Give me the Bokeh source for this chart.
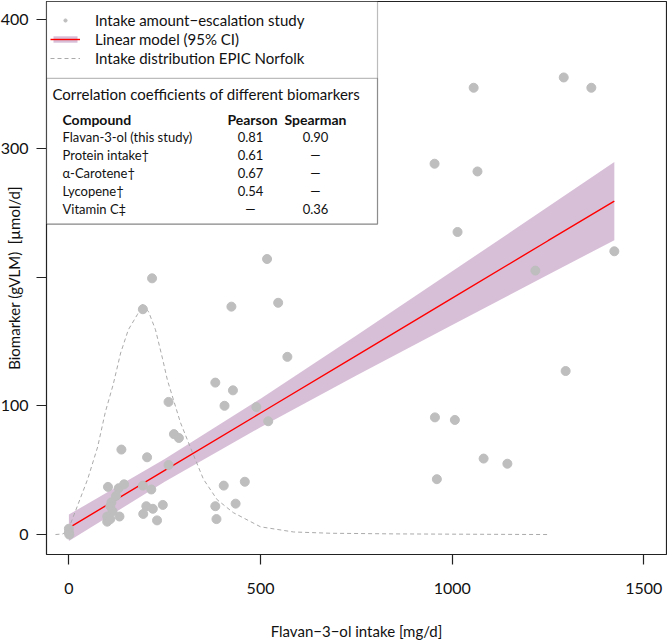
from bokeh.plotting import figure
from bokeh.models import (Range1d, FixedTicker, Legend, LegendItem, Label, BoxAnnotation)
from bokeh.embed import file_html
from bokeh.resources import INLINE

# ---- data ----
intake = [0, 0, 1, 102, 137, 130, 144, 123, 111, 108, 114, 100, 100, 108, 132,
          204, 193, 215, 202, 219, 194, 230, 245, 260, 260, 274, 287,
          382, 428, 406, 489, 520, 404, 459, 382, 435, 385,
          517, 424, 546, 570, 217, 193,
          1056, 1291, 1363, 954, 1066, 1014, 1423, 1217, 1296, 955, 1007, 1082, 1144, 960]
biomarker = [4.5, 1.5, 0, 37, 66, 36, 39, 30, 25, 22, 18, 14, 10, 12, 14,
             60, 38, 35, 22, 20, 16, 11, 23, 103, 54, 78, 75,
             118, 112, 100, 99, 88, 38, 41, 22, 24, 12,
             214, 177, 180, 138, 199, 175,
             347, 355, 347, 288, 282, 235, 220, 205, 127, 91, 89, 59, 55, 43]

fit_x = [0, 250, 500, 750, 1000, 1250, 1423]
fit_y = [5.2, 49.8, 94.4, 139.0, 183.6, 228.2, 259.0]
ci_lower = [-5.1, 41.0, 83.3, 123.5, 162.8, 201.8, 228.6]
ci_upper = [15.5, 58.6, 105.5, 154.5, 204.4, 254.6, 289.4]

epic_x = [-35, -15, 0, 22, 49, 75, 95, 116, 135, 155, 179, 192, 208, 226, 244,
          257, 291, 322, 351, 387, 429, 500, 586, 683, 850, 1000, 1250]
epic_y = [0, 0.5, 5, 22, 43, 68, 95, 117, 141, 159, 171, 179, 173, 159, 137,
          120, 87, 64, 43, 27, 17, 6, 2, 1, 0.5, 0.3, 0]

x_ticks = [0, 500, 1000, 1500]
y_ticks = [0, 100, 200, 300, 400]

compounds = ["Flavan-3-ol (this study)", "Protein intake\u2020", "\u03b1-Carotene\u2020",
             "Lycopene\u2020", "Vitamin C\u2021"]
pearson = ["0.81", "0.61", "0.67", "0.54", "\u2014"]
spearman = ["0.90", "\u2014", "\u2014", "\u2014", "0.36"]

# ---- layout ----
W, H = 667, 642
FL, FR, FT, FB = 46, 666, 1, 555
X0, X1 = -58.4, 1559.1
Y0, Y1 = -15.5, 414.0
FONT = "Lato"


def dx(px):
    return X0 + (px - FL) * (X1 - X0) / (FR - FL)


def dy(py):
    return Y1 - (py - FT) * (Y1 - Y0) / (FB - FT)


p = figure(width=W, height=H, output_backend="svg", toolbar_location=None,
           x_range=Range1d(X0, X1), y_range=Range1d(Y0, Y1),
           min_border_left=FL, min_border_right=W - FR,
           min_border_top=FT, min_border_bottom=H - FB)
p.background_fill_color = "white"
p.border_fill_color = "white"
p.outline_line_color = "#222222"
p.outline_line_width = 1.2
p.xgrid.visible = False
p.ygrid.visible = False

for ax in (p.xaxis[0], p.yaxis[0]):
    ax.axis_line_color = None
    ax.major_tick_in = 0
    ax.major_tick_out = 10
    ax.major_tick_line_color = "#222222"
    ax.major_tick_line_width = 1.2
    ax.minor_tick_line_color = None
    ax.major_label_text_font = FONT
    ax.major_label_text_font_size = "16px"
    ax.major_label_text_color = "#111111"
    ax.axis_label_text_font = FONT
    ax.axis_label_text_font_size = "15px"
    ax.axis_label_text_font_style = "normal"
    ax.axis_label_text_color = "#111111"

p.xaxis.ticker = FixedTicker(ticks=x_ticks)
p.yaxis.ticker = FixedTicker(ticks=y_ticks)
p.yaxis.major_label_overrides = {200: ""}
p.xaxis.major_label_standoff = 18
p.yaxis.major_label_standoff = 8
p.xaxis.axis_label = "Flavan\u22123\u2212ol intake [mg/d]"
p.xaxis.axis_label_standoff = 25
p.yaxis.axis_label = "Biomarker (gVLM)\u2002[\u00b5mol/d]"
p.yaxis.axis_label_standoff = -25

# ---- glyphs ----
band = p.varea(x=fit_x, y1=ci_lower, y2=ci_upper, fill_color="#D8BFD8", fill_alpha=1.0)
fit = p.line(fit_x, fit_y, line_color="red", line_width=1.4)
epic = p.line(epic_x, epic_y, line_color="#AAAAAA", line_width=1, line_dash="4 3")
pts = p.scatter(intake, biomarker, size=9, fill_color="#BEBEBE", line_color="#BEBEBE")

# ---- legend + table box ----
p.add_layout(BoxAnnotation(left=dx(FL), right=dx(377), top=dy(FT), bottom=dy(224),
                           fill_color="white", fill_alpha=1.0,
                           line_color="#222222", line_width=1.2))
p.add_layout(BoxAnnotation(left=dx(FL), right=dx(377), top=dy(78), bottom=dy(224),
                           fill_alpha=0.0, line_color="#222222", line_width=1.2))

legend = Legend(items=[
    LegendItem(label="Intake amount\u2212escalation study", renderers=[pts]),
    LegendItem(label="Linear model (95% CI)", renderers=[band, fit]),
    LegendItem(label="Intake distribution EPIC Norfolk", renderers=[epic]),
], location=(4, 487))
legend.margin = 0
legend.padding = 0
legend.spacing = 0
legend.border_line_color = None
legend.background_fill_alpha = 0
legend.label_text_font = FONT
legend.label_text_font_size = "15px"
legend.label_text_color = "#111111"
legend.glyph_width = 30
legend.glyph_height = 8
legend.label_height = 19
legend.label_standoff = 15
p.add_layout(legend)

p.add_layout(Label(x=dx(52), y=dy(94), text="Correlation coefficients of different biomarkers",
                   text_align="left", text_baseline="middle", text_font=FONT,
                   text_font_size="15px", text_color="#111111"))
head_y = dy(119)
p.add_layout(Label(x=dx(62), y=head_y, text="Compound", text_align="left", text_baseline="middle",
                   text_font=FONT, text_font_size="14px", text_font_style="bold", text_color="#111111"))
p.add_layout(Label(x=dx(252), y=head_y, text="Pearson", text_align="center", text_baseline="middle",
                   text_font=FONT, text_font_size="14px", text_font_style="bold", text_color="#111111"))
p.add_layout(Label(x=dx(315), y=head_y, text="Spearman", text_align="center", text_baseline="middle",
                   text_font=FONT, text_font_size="14px", text_font_style="bold", text_color="#111111"))
row_px = [137, 155, 173, 191, 209]
for i, name in enumerate(compounds):
    yy = dy(row_px[i])
    p.add_layout(Label(x=dx(62), y=yy, text=name, text_align="left", text_baseline="middle",
                       text_font=FONT, text_font_size="13px", text_color="#111111"))
    p.add_layout(Label(x=dx(250), y=yy, text=pearson[i], text_align="center", text_baseline="middle",
                       text_font=FONT, text_font_size="13px", text_color="#111111"))
    p.add_layout(Label(x=dx(315), y=yy, text=spearman[i], text_align="center", text_baseline="middle",
                       text_font=FONT, text_font_size="13px", text_color="#111111"))

open("out.html", "w").write(file_html(p, INLINE))
